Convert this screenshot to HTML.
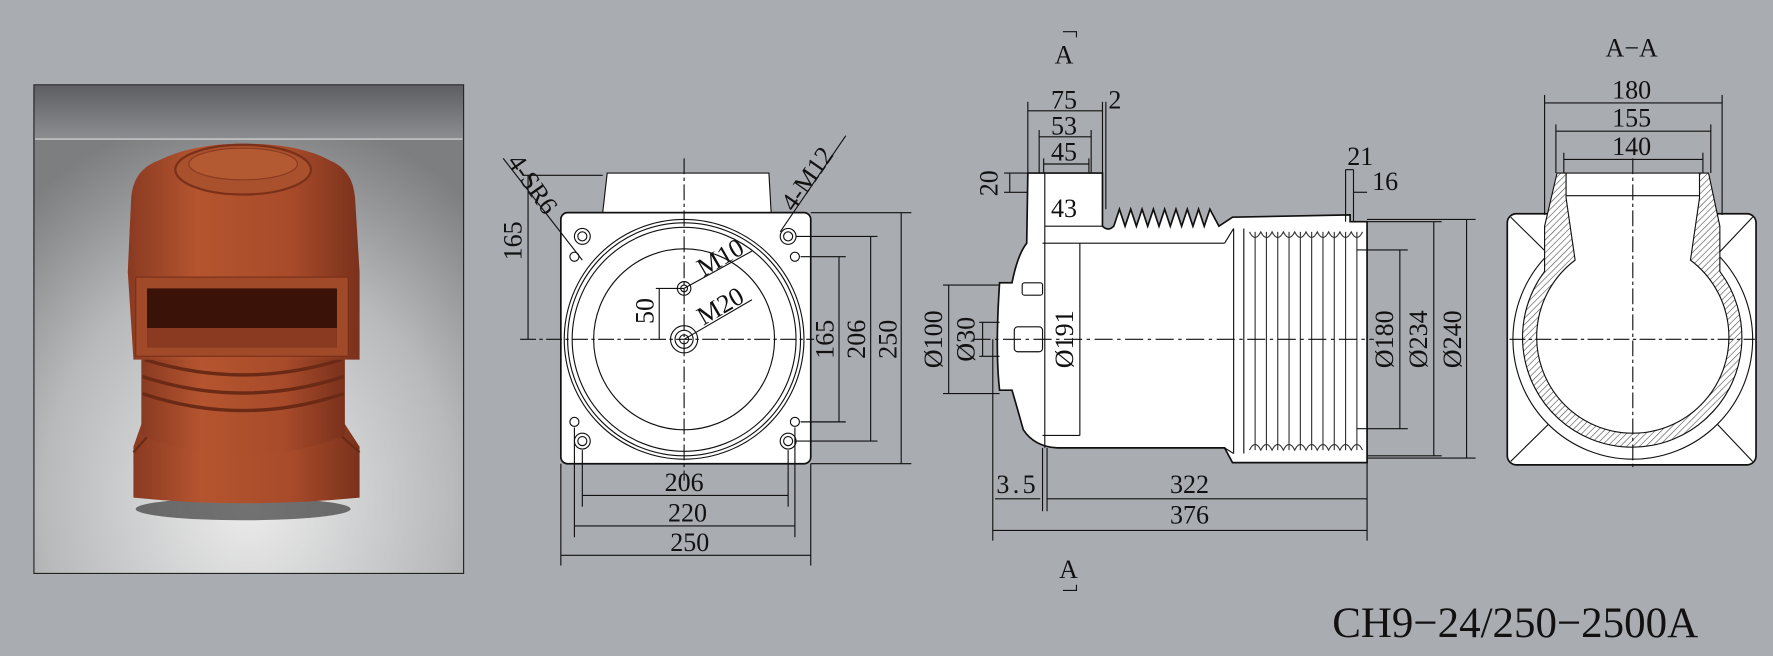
<!DOCTYPE html>
<html><head><meta charset="utf-8"><style>
html,body{margin:0;padding:0;background:#a9acb1;}
svg{display:block}
text{font-family:"Liberation Serif",serif;fill:#111;}
</style></head><body>
<svg width="1773" height="656" viewBox="0 0 1568 580" preserveAspectRatio="none" xmlns="http://www.w3.org/2000/svg">
<defs>
<linearGradient id="top" x1="0" y1="0" x2="0" y2="1"><stop offset="0" stop-color="#5e5f62"/><stop offset="1" stop-color="#8c8d90"/></linearGradient>
<radialGradient id="bg" cx="0.5" cy="0.85" r="0.8"><stop offset="0" stop-color="#ececec"/><stop offset="0.6" stop-color="#b8b9bb"/><stop offset="1" stop-color="#7d7e80"/></radialGradient>
<linearGradient id="br" x1="0" y1="0" x2="1" y2="0"><stop offset="0" stop-color="#8a3a22"/><stop offset="0.3" stop-color="#b5552f"/><stop offset="0.7" stop-color="#a84b2a"/><stop offset="1" stop-color="#7a311c"/></linearGradient>
<pattern id="hat" width="4" height="4" patternUnits="userSpaceOnUse" patternTransform="rotate(45)"><rect width="4" height="4" fill="#fff"/><line x1="0" y1="0" x2="0" y2="4" stroke="#444" stroke-width="1"/></pattern>
</defs>
<rect width="1568" height="580" fill="#a9acb1"/>
<!-- photo -->
<rect x="30" y="75" width="380" height="432" fill="url(#bg)" stroke="#222"/>
<rect x="30.5" y="75.5" width="379" height="47" fill="url(#top)"/>
<line x1="31" y1="123" x2="409" y2="123" stroke="#ddd"/>
<ellipse cx="215" cy="450" rx="95" ry="10" fill="#222" opacity="0.6"/>
<path d="M125 375 L305 375 L318 395 L318 440 Q215 450 118 440 L118 395 Z" fill="url(#br)"/>
<path d="M140 375 L118 400 M290 375 L318 400" stroke="#6a2a16" stroke-width="2"/>
<path d="M125 300 Q215 270 305 300 L305 385 Q215 420 125 385 Z" fill="url(#br)"/>
<path d="M128 318 Q215 345 302 318 M126 333 Q215 362 304 333 M126 348 Q215 378 304 348" stroke="#6a2a16" stroke-width="3" fill="none"/>
<path d="M116 175 Q118 150 140 142 Q170 127 215 127 Q265 127 292 142 Q312 150 314 175 L318 240 L318 318 L118 318 L113 240 Z" fill="url(#br)"/>
<ellipse cx="215" cy="150" rx="60" ry="22" fill="#a9502d" stroke="#7a3019" stroke-width="2"/>
<ellipse cx="215" cy="145" rx="48" ry="14" fill="#b35a33" stroke="#8a3a20"/>
<rect x="120" y="245" width="188" height="70" fill="#a04a2a" stroke="#7a3019"/>
<rect x="130" y="255" width="168" height="52" fill="#3a1208"/>
<path d="M130 290 L298 290 L298 307 L130 307 Z" fill="#8a3a20"/>
<!-- front view -->
<g stroke="#111" fill="none" stroke-width="1">
<path d="M533 188 L537 153 L680 153 L682 188 Z" fill="#fff"/>
<rect x="496" y="188" width="221" height="222" rx="6" fill="#fff" stroke-width="1.5"/>
<circle cx="605" cy="300" r="106"/><circle cx="605" cy="300" r="103"/><circle cx="605" cy="300" r="99"/>
<circle cx="605" cy="300" r="80"/>
<g stroke-dasharray="14 3 3 3"><line x1="605" y1="140" x2="605" y2="425"/><line x1="460" y1="300" x2="720" y2="300"/></g>
<g><circle cx="515" cy="209" r="7"/><circle cx="515" cy="209" r="4"/><circle cx="697" cy="209" r="7"/><circle cx="697" cy="209" r="4"/><circle cx="515" cy="390" r="7"/><circle cx="515" cy="390" r="4"/><circle cx="697" cy="390" r="7"/><circle cx="697" cy="390" r="4"/>
<circle cx="508" cy="227" r="4"/><circle cx="703" cy="227" r="4"/><circle cx="508" cy="373" r="4"/><circle cx="703" cy="373" r="4"/>
<circle cx="605" cy="255" r="6"/><circle cx="605" cy="255" r="3"/><circle cx="605" cy="300" r="12"/><circle cx="605" cy="300" r="8"/><circle cx="605" cy="300" r="4"/></g>
<line x1="467" y1="155" x2="467" y2="300"/><line x1="462" y1="155" x2="533" y2="155"/>
<line x1="742" y1="227" x2="742" y2="373"/><line x1="708" y1="227" x2="748" y2="227"/><line x1="708" y1="373" x2="748" y2="373"/>
<line x1="770" y1="209" x2="770" y2="390"/><line x1="704" y1="209" x2="776" y2="209"/><line x1="704" y1="390" x2="776" y2="390"/>
<line x1="797" y1="188" x2="797" y2="410"/><line x1="717" y1="188" x2="806" y2="188"/><line x1="717" y1="410" x2="806" y2="410"/>
<line x1="515" y1="438" x2="697" y2="438"/><line x1="508" y1="465" x2="703" y2="465"/><line x1="496" y1="491" x2="717" y2="491"/>
<line x1="515" y1="398" x2="515" y2="448"/><line x1="697" y1="398" x2="697" y2="448"/><line x1="508" y1="378" x2="508" y2="475"/><line x1="703" y1="378" x2="703" y2="475"/><line x1="496" y1="410" x2="496" y2="500"/><line x1="717" y1="410" x2="717" y2="500"/>
<line x1="583" y1="255" x2="583" y2="300"/><line x1="580" y1="255" x2="605" y2="255"/>
<line x1="445" y1="140" x2="515" y2="230"/><line x1="748" y1="120" x2="690" y2="205"/>
<line x1="605" y1="255" x2="665" y2="222"/><line x1="605" y1="300" x2="665" y2="265"/>
</g>
<g font-size="23">
<text x="605" y="434" text-anchor="middle">206</text><text x="608" y="461" text-anchor="middle">220</text><text x="610" y="487" text-anchor="middle">250</text>
<text transform="translate(461,213) rotate(-90)" text-anchor="middle">165</text>
<text transform="translate(737,300) rotate(-90)" text-anchor="middle">165</text>
<text transform="translate(765,300) rotate(-90)" text-anchor="middle">206</text>
<text transform="translate(793,300) rotate(-90)" text-anchor="middle">250</text>
<text transform="translate(578,275) rotate(-90)" text-anchor="middle">50</text>
<text transform="translate(622,245) rotate(-30)">M10</text>
<text transform="translate(622,288) rotate(-30)">M20</text>
<text transform="translate(448,143) rotate(55)">4-SR6</text>
<text transform="translate(702,188) rotate(-55)">4-M12</text>
</g>
<!-- side view -->
<g stroke="#111" fill="none" stroke-width="1">
<path d="M909 153 L975 153 L975 200 Q980 205 985 200 L990 185 L995 200 L1000 185 L1005 200 L1010 185 L1015 200 L1020 185 L1025 200 L1030 185 L1035 200 L1040 185 L1045 200 L1050 185 L1055 200 L1060 185 L1065 200 L1070 185 L1078 200 L1090 192 L1194 190 L1194 196 L1209 196 L1209 409 L1090 409 L1083 396 L935 396 Q915 395 905 380 Q898 355 895 345 L884 345 Q880 310 884 250 L895 250 Q900 225 908 215 Z" fill="#fff" stroke-width="1.5"/>
<line x1="922" y1="215" x2="1083" y2="215"/><line x1="1083" y1="215" x2="1091" y2="202"/><line x1="1083" y1="396" x2="1091" y2="401"/>
<line x1="924" y1="200" x2="975" y2="200"/><line x1="924" y1="153" x2="924" y2="396"/>
<line x1="955" y1="215" x2="955" y2="385"/><line x1="922" y1="385" x2="955" y2="385"/>
<line x1="1091" y1="202" x2="1091" y2="401"/><line x1="1100" y1="202" x2="1100" y2="401"/>
<g stroke="#333">
<path d="M1110 205 V398 M1120 205 V398 M1130 205 V398 M1140 205 V398 M1150 205 V398 M1160 205 V398 M1170 205 V398 M1180 205 V398 M1190 205 V398 M1200 205 V398"/>
<path d="M1105 205 q5 10 10 0 q5 10 10 0 q5 10 10 0 q5 10 10 0 q5 10 10 0 q5 10 10 0 q5 10 10 0 q5 10 10 0 q5 10 10 0 q5 10 10 0"/>
<path d="M1105 398 q5 -10 10 0 q5 -10 10 0 q5 -10 10 0 q5 -10 10 0 q5 -10 10 0 q5 -10 10 0 q5 -10 10 0 q5 -10 10 0 q5 -10 10 0 q5 -10 10 0"/>
</g>
<rect x="904" y="250" width="18" height="11" rx="2"/><rect x="897" y="289" width="25" height="22" rx="3"/>
<line x1="860" y1="300" x2="1215" y2="300" stroke-dasharray="16 4 3 4"/>
<line x1="909" y1="98" x2="975" y2="98"/><line x1="919" y1="121" x2="965" y2="121"/><line x1="923" y1="145" x2="963" y2="145"/>
<line x1="909" y1="90" x2="909" y2="153"/><line x1="975" y1="90" x2="975" y2="153"/><line x1="978" y1="90" x2="978" y2="185"/>
<line x1="919" y1="115" x2="919" y2="153"/><line x1="965" y1="115" x2="965" y2="153"/><line x1="923" y1="140" x2="923" y2="153"/><line x1="963" y1="140" x2="963" y2="153"/>
<line x1="888" y1="153" x2="909" y2="153"/><line x1="888" y1="170" x2="909" y2="170"/><line x1="893" y1="153" x2="893" y2="170"/>
<line x1="1190" y1="150" x2="1190" y2="196"/><line x1="1197" y1="150" x2="1197" y2="196"/><line x1="1190" y1="150" x2="1197" y2="150"/><line x1="1197" y1="170" x2="1209" y2="170"/>
<line x1="839" y1="252" x2="839" y2="348"/><line x1="834" y1="252" x2="884" y2="252"/><line x1="834" y1="348" x2="884" y2="348"/>
<line x1="869" y1="285" x2="869" y2="315"/><line x1="866" y1="285" x2="884" y2="285"/><line x1="866" y1="315" x2="884" y2="315"/>
<line x1="1238" y1="221" x2="1238" y2="379"/><line x1="1200" y1="221" x2="1245" y2="221"/><line x1="1200" y1="379" x2="1245" y2="379"/>
<line x1="1268" y1="196" x2="1268" y2="403"/><line x1="1209" y1="196" x2="1275" y2="196"/><line x1="1209" y1="403" x2="1275" y2="403"/>
<line x1="1297" y1="194" x2="1297" y2="405"/><line x1="1209" y1="194" x2="1305" y2="194"/><line x1="1209" y1="405" x2="1305" y2="405"/>
<line x1="878" y1="300" x2="878" y2="478"/><line x1="1209" y1="400" x2="1209" y2="478"/><line x1="922" y1="396" x2="922" y2="452"/><line x1="926" y1="396" x2="926" y2="452"/>
<line x1="880" y1="441" x2="920" y2="441"/><line x1="926" y1="441" x2="1209" y2="441"/><line x1="878" y1="469" x2="1209" y2="469"/>
<path d="M940 28 H952 V33"/><path d="M940 522 H952 V517"/>
</g>
<g font-size="23">
<text x="941" y="96" text-anchor="middle">75</text><text x="986" y="96" text-anchor="middle">2</text>
<text x="941" y="119" text-anchor="middle">53</text><text x="941" y="142" text-anchor="middle">45</text>
<text x="941" y="192" text-anchor="middle">43</text>
<text transform="translate(882,162) rotate(-90)" text-anchor="middle">20</text>
<text x="1203" y="146" text-anchor="middle">21</text><text x="1225" y="168" text-anchor="middle">16</text>
<text transform="translate(833,300) rotate(-90)" text-anchor="middle">Ø100</text>
<text transform="translate(862,300) rotate(-90)" text-anchor="middle">Ø30</text>
<text transform="translate(949,300) rotate(-90)" text-anchor="middle">Ø191</text>
<text transform="translate(1232,300) rotate(-90)" text-anchor="middle">Ø180</text>
<text transform="translate(1262,300) rotate(-90)" text-anchor="middle">Ø234</text>
<text transform="translate(1292,300) rotate(-90)" text-anchor="middle">Ø240</text>
<text x="900" y="436" text-anchor="middle" letter-spacing="3">3.5</text>
<text x="1052" y="436" text-anchor="middle">322</text><text x="1052" y="463" text-anchor="middle">376</text>
<text x="941" y="56" text-anchor="middle">A</text><text x="945" y="511" text-anchor="middle">A</text>
</g>
<!-- A-A -->
<g stroke="#111" fill="none" stroke-width="1">
<rect x="1333" y="189" width="220" height="222" rx="8" fill="#fff" stroke-width="1.5"/>
<path d="M1336 192 L1395 250 M1550 192 L1495 250 M1336 408 L1395 350 M1550 408 L1495 350"/>
<circle cx="1444" cy="300" r="106" fill="#fff"/>
<path d="M1377 153 L1511 153 L1521 200 L1521 240 A97 97 0 1 1 1366 240 L1366 200 Z" fill="url(#hat)"/>
<path d="M1385 153 L1503 153 L1503 175 L1495 230 A85 85 0 1 1 1393 230 L1385 175 Z" fill="#fff"/>
<line x1="1385" y1="173" x2="1503" y2="173"/>
<line x1="1444" y1="140" x2="1444" y2="415" stroke-dasharray="14 3 3 3"/>
<line x1="1335" y1="300" x2="1552" y2="300" stroke-dasharray="14 3 3 3"/>
<line x1="1366" y1="91" x2="1523" y2="91"/><line x1="1376" y1="116" x2="1513" y2="116"/><line x1="1383" y1="141" x2="1506" y2="141"/>
<line x1="1366" y1="84" x2="1366" y2="190"/><line x1="1523" y1="84" x2="1523" y2="190"/><line x1="1376" y1="110" x2="1376" y2="153"/><line x1="1513" y1="110" x2="1513" y2="153"/><line x1="1383" y1="135" x2="1383" y2="153"/><line x1="1506" y1="135" x2="1506" y2="153"/>
</g>
<g font-size="23">
<text x="1443" y="50" text-anchor="middle">A−A</text>
<text x="1443" y="87" text-anchor="middle">180</text><text x="1443" y="112" text-anchor="middle">155</text><text x="1443" y="137" text-anchor="middle">140</text>
</g>
<text x="1340" y="563" text-anchor="middle" font-size="38">CH9−24/250−2500A</text>
</svg>
</body></html>
